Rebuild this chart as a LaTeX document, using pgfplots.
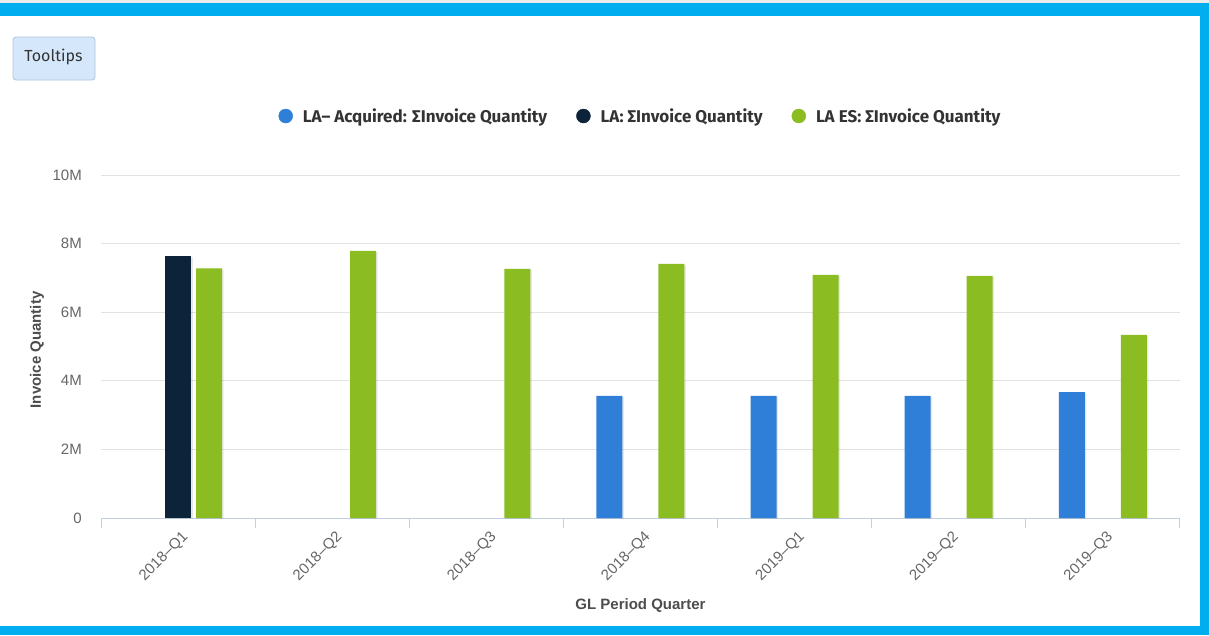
\documentclass[border=0pt]{standalone}
\usepackage{pgfplots}
\pgfplotsset{compat=1.18}
\usepackage{fontspec}
\setmainfont{Liberation Sans}
\newfontfamily\firafont{Fira Sans}
\usetikzlibrary{shadows}
\definecolor{hcblue}{HTML}{2F7ED8}
\definecolor{hcdark}{HTML}{0D233A}
\definecolor{hcgreen}{HTML}{8BBC21}
\definecolor{bordercyan}{HTML}{00AEEF}
\definecolor{gridgray}{HTML}{E2E2E2}
\definecolor{axisline}{HTML}{C0D0E0}
\definecolor{ticktext}{HTML}{666666}
\definecolor{titletext}{HTML}{4D4D4D}
\definecolor{legendtext}{HTML}{333333}
\definecolor{btnfill}{HTML}{D5E8FB}
\definecolor{btnborder}{HTML}{B0C4D8}

\begin{document}
\begin{tikzpicture}
\fill[black!8] (0pt,0pt) rectangle (1209pt,-3pt);
\fill[bordercyan] (0pt,-3pt) rectangle (1209pt,-635pt);
\fill[white] (0pt,-16pt) rectangle (1200pt,-626pt);
\draw[btnborder, fill=btnfill, rounded corners=3pt, line width=0.8pt] (13pt,-37pt) rectangle (95pt,-80pt);
\node[text=legendtext, font=\firafont\fontsize{16}{19}\selectfont] at (53.5pt,-57pt) {Tooltips};
\begin{axis}[
  at={(101pt,-518pt)}, anchor=south west,
  scale only axis, width=1079pt, height=343pt,
  xmin=-0.5, xmax=6.5, ymin=0, ymax=10,
  axis x line*=bottom, axis y line*=left,
  y axis line style={draw=none},
  x axis line style={axisline, line width=1pt},
  xtick={0,...,6},
  xticklabels={2018–Q1,2018–Q2,2018–Q3,2018–Q4,2019–Q1,2019–Q2,2019–Q3},
  minor xtick={-0.5,0.5,...,6.5},
  major tick length=0pt, minor tick length=10pt, tick align=outside,
  minor tick style={axisline, line width=1pt},
  ytick={0,2,4,6,8,10}, yticklabels={0,2M,4M,6M,8M,10M},
  ymajorgrids, major grid style={gridgray, line width=1pt},
  tick label style={font=\fontsize{15}{17}\selectfont, text=ticktext},
  yticklabel style={anchor=east, inner sep=0pt, xshift=-19pt},
  xticklabel style={inner sep=0pt, anchor=north east, xshift=3pt, yshift=-12pt, rotate=45},
  ylabel={Invoice Quantity}, xlabel={GL Period Quarter},
  every axis y label/.style={at={(axis description cs:-0.0593,0.49)}, rotate=90, anchor=center, font=\bfseries\fontsize{15}{17}\selectfont, text=titletext},
  every axis x label/.style={at={(axis description cs:0.5,-0.2566)}, anchor=center, font=\bfseries\fontsize{15}{17}\selectfont, text=titletext},
  legend style={at={(0.5,1.172)}, anchor=center, draw=none, fill=none, legend columns=3,
    font=\firafont\bfseries\fontsize{17}{20}\selectfont, text=legendtext,
    /tikz/every odd column/.append style={column sep=8pt},
    /tikz/every even column/.append style={column sep=27pt}},
  legend cell align=left,
]
\addlegendimage{legend image code/.code={\fill[hcblue] (0pt,0pt) circle (7pt);}}
\addlegendentry{LA– Acquired: ΣInvoice Quantity}
\addlegendimage{legend image code/.code={\fill[hcdark] (0pt,0pt) circle (7pt);}}
\addlegendentry{LA: ΣInvoice Quantity}
\addlegendimage{legend image code/.code={\fill[hcgreen] (0pt,0pt) circle (7pt);}}
\addlegendentry{LA ES: ΣInvoice Quantity}

% LA- Acquired (millions)
\addplot[forget plot, ybar, bar width=26pt, bar shift=-31pt, fill=hcblue, draw=none,
  drop shadow={shadow xshift=1.5pt, shadow yshift=-1pt, opacity=0.18}]
  coordinates {(3,3.56) (4,3.56) (5,3.56) (6,3.67)};
% LA
\addplot[forget plot, ybar, bar width=26pt, bar shift=0pt, fill=hcdark, draw=none,
  drop shadow={shadow xshift=1.5pt, shadow yshift=-1pt, opacity=0.18}]
  coordinates {(0,7.65)};
% LA ES
\addplot[forget plot, ybar, bar width=26pt, bar shift=31pt, fill=hcgreen, draw=none,
  drop shadow={shadow xshift=1.5pt, shadow yshift=-1pt, opacity=0.18}]
  coordinates {(0,7.28) (1,7.79) (2,7.26) (3,7.41) (4,7.09) (5,7.06) (6,5.34)};
\end{axis}
\pgfresetboundingbox
\useasboundingbox (0pt,0pt) rectangle (1209pt,-635pt);
\end{tikzpicture}
\end{document}
